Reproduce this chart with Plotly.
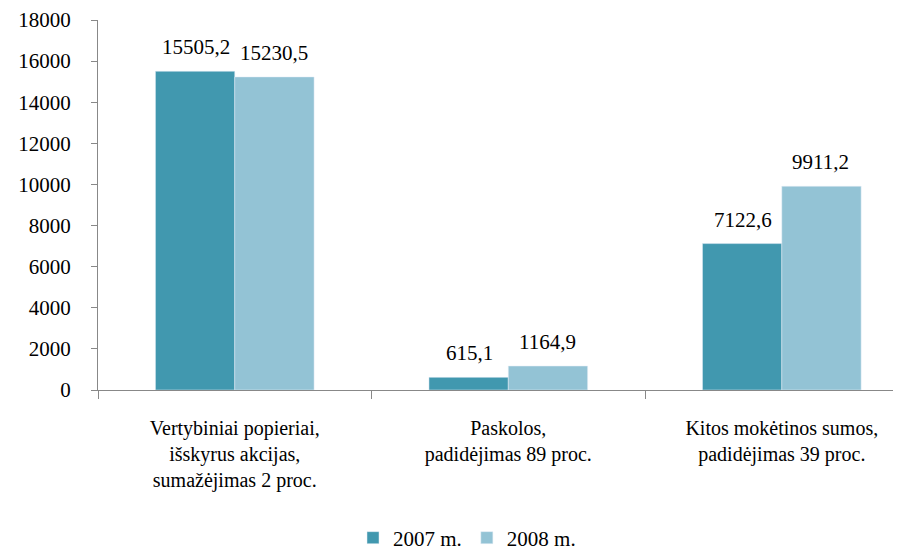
import plotly.graph_objects as go

categories = ["Vertybiniai popieriai,<br>išskyrus akcijas,<br>sumažėjimas 2 proc.",
              "Paskolos,<br>padidėjimas 89 proc.",
              "Kitos mokėtinos sumos,<br>padidėjimas 39 proc."]
values_2007 = [15505.2, 615.1, 7122.6]
values_2008 = [15230.5, 1164.9, 9911.2]
labels_2007 = ["15505,2", "615,1", "7122,6"]
labels_2008 = ["15230,5", "1164,9", "9911,2"]
y_ticks = [0, 2000, 4000, 6000, 8000, 10000, 12000, 14000, 16000, 18000]
y_tick_text = ["0", "2000", "4000", "6000", "8000", "10000", "12000", "14000", "16000", "18000"]

FONT = "Liberation Serif"

fig = go.Figure()
fig.add_trace(go.Bar(x=categories, y=values_2007, name="2007 m.", marker_color="#4198AF"))
fig.add_trace(go.Bar(x=categories, y=values_2008, name="2008 m.", marker_color="#93C3D5"))

for cat, v, t in zip(categories, values_2007, labels_2007):
    fig.add_annotation(x=cat, y=v, text=t, showarrow=False, xshift=-39, yshift=10,
                       yanchor="bottom", font=dict(size=21, family=FONT, color="black"))
for cat, v, t in zip(categories, values_2008, labels_2008):
    fig.add_annotation(x=cat, y=v, text=t, showarrow=False, xshift=39, yshift=10,
                       yanchor="bottom", font=dict(size=21, family=FONT, color="black"))

fig.update_layout(
    width=901, height=549,
    margin=dict(l=90, r=0, t=12, b=167, autoexpand=False),
    paper_bgcolor="white", plot_bgcolor="white",
    barmode="group", bargap=0.42, bargroupgap=0,
    font=dict(family=FONT, size=21, color="black"),
    showlegend=True,
    legend=dict(orientation="h", x=0.455, xanchor="center", y=-0.40, yanchor="middle",
                font=dict(size=21, family=FONT), itemwidth=30, traceorder="normal"),
    xaxis=dict(type="category", range=[-0.5, 2.465], showline=True, linecolor="#888888",
               linewidth=1, ticks="outside", tickson="boundaries", ticklen=8,
               tickcolor="#888888", showgrid=False, ticklabelstandoff=20, automargin=False,
               tickfont=dict(size=20, family=FONT, color="black")),
    yaxis=dict(range=[0, 18000], tickvals=y_ticks, ticktext=y_tick_text, showline=True,
               linecolor="#888888", linewidth=1, ticks="outside", ticklen=6,
               tickcolor="#888888", showgrid=False, zeroline=False, automargin=False,
               tickfont=dict(size=21, family=FONT, color="black"), ticklabelstandoff=16),
)

fig.write_html("out.html")
